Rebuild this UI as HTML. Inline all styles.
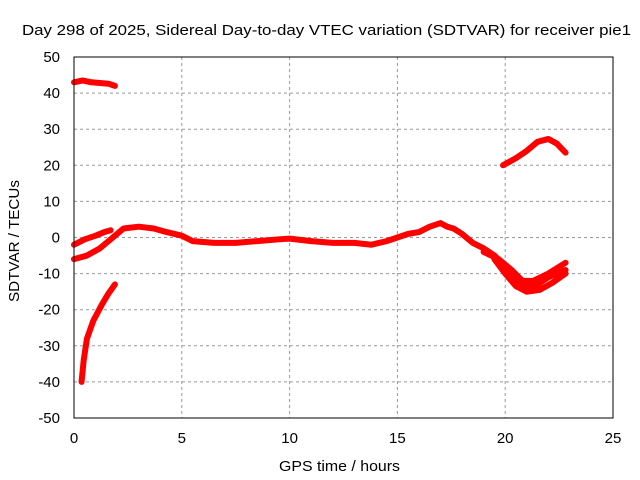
<!DOCTYPE html>
<html><head><meta charset="utf-8"><style>
body{margin:0;background:#fff}
svg{display:block;font-family:"Liberation Sans",sans-serif}
</style></head><body>
<svg id="chart" width="640" height="480">
<rect width="640" height="480" fill="#fff"/>
<text x="22" y="35" font-size="15" textLength="609" lengthAdjust="spacingAndGlyphs">Day 298 of 2025, Sidereal Day-to-day VTEC variation (SDTVAR) for receiver pie1</text>
<text x="279" y="471" font-size="15" textLength="121" lengthAdjust="spacingAndGlyphs">GPS time / hours</text>
<text transform="translate(19,302) rotate(-90)" font-size="15" textLength="122" lengthAdjust="spacingAndGlyphs">SDTVAR / TECUs</text>
<g id="grid"></g><g id="ticks"></g><g id="series"></g>
<rect x="74" y="57" width="539" height="361" fill="none" stroke="#000" stroke-width="1"/>
</svg>
<script>
const xTicks=[0,5,10,15,20,25];
const yTicks=[-50,-40,-30,-20,-10,0,10,20,30,40,50];
const seriesTop=[[0,43],[0.4,43.5],[0.8,43],[1.2,42.8],[1.6,42.6],[1.9,42]];
const seriesLow=[[0.35,-40],[0.45,-34],[0.6,-28],[0.9,-23],[1.3,-18.5],[1.6,-15.5],[1.9,-13]];
const seriesUpper=[[0,-2],[0.5,-0.5],[1,0.5],[1.4,1.5],[1.7,2]];
const seriesMain=[[0,-6],[0.6,-5],[1.2,-3],[1.8,0],[2.3,2.5],[3,3],[3.7,2.5],[4.3,1.5],[5,0.5],[5.5,-1],[6.5,-1.5],[7.5,-1.5],[8.5,-1],[9.5,-0.5],[10,-0.3],[11,-1],[12,-1.5],[13,-1.5],[13.8,-2],[14.5,-1],[15,0],[15.5,1],[16,1.5],[16.5,3],[17,4],[17.3,3],[17.6,2.5],[18,1],[18.5,-1.5],[19,-3],[19.5,-5],[20,-8],[20.5,-11.5],[21,-13.5],[21.5,-13],[22,-11],[22.8,-9]];
const seriesBranch2=[[19,-4],[19.7,-6],[20.3,-9],[20.8,-12],[21.3,-12],[22,-10],[22.8,-7]];
const seriesBranch3=[[19.5,-6],[20,-10],[20.5,-13.5],[21,-15],[21.6,-14.5],[22.2,-12.5],[22.8,-10]];
const seriesEvening=[[19.9,20],[20.5,22],[21,24],[21.5,26.5],[22,27.3],[22.4,26],[22.8,23.5]];
const X=v=>74+v*(539/25), Y=v=>418-(v+50)*3.61;
const NS="http://www.w3.org/2000/svg";
const grid=document.getElementById('grid'),ticks=document.getElementById('ticks'),ser=document.getElementById('series');
function mk(t,a,p){const e=document.createElementNS(NS,t);for(const k in a)e.setAttribute(k,a[k]);p.appendChild(e);return e;}
xTicks.forEach(v=>{
 if(v>0&&v<25){const l=mk('line',{x1:X(v),x2:X(v),y1:57,y2:418,stroke:'#999','stroke-dasharray':'3,3'},grid);
 
 }
 const t=mk('text',{x:X(v),y:443,'font-size':15,'text-anchor':'middle'},ticks);t.textContent=v;
 
 
});
yTicks.forEach(v=>{
 if(v>-50&&v<50){const l=mk('line',{x1:74,x2:613,y1:Y(v),y2:Y(v),stroke:'#999','stroke-dasharray':'3,3'},grid);
 
 }
 const t=mk('text',{x:60,y:Y(v)+5,'font-size':15,'text-anchor':'end'},ticks);t.textContent=v;
 
 
});
[seriesTop,seriesLow,seriesUpper,seriesMain,seriesBranch2,seriesBranch3,seriesEvening].forEach(s=>{
 const p=mk('polyline',{points:s.map(d=>X(d[0])+','+Y(d[1])).join(' '),fill:'none',stroke:'#f00','stroke-width':6,'stroke-linejoin':'round','stroke-linecap':'round'},ser);
 
 
});
</script>
</body></html>
